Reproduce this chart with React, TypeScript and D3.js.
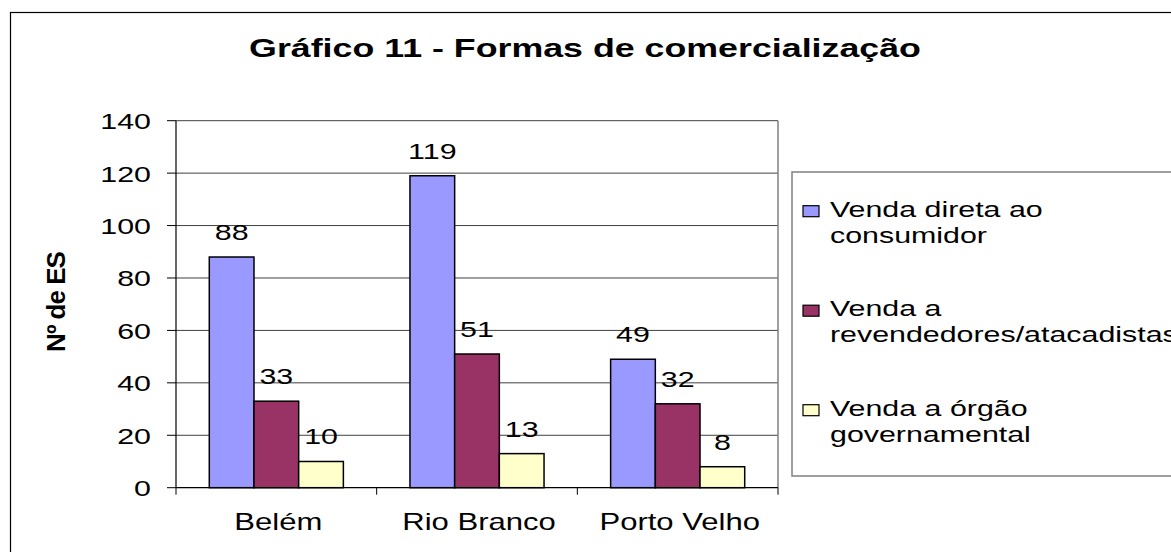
import React from "react";
import * as d3 from "d3";

const cities = ["Belém", "Rio Branco", "Porto Velho"];
const seriesNames = ["direta", "revendedores", "orgao"];
const vendaDireta = [88, 119, 49];
const vendaRevendedores = [33, 51, 32];
const vendaOrgao = [10, 13, 8];
const legendLines = [
  ["Venda direta ao", "consumidor"],
  ["Venda a", "revendedores/atacadistas"],
  ["Venda a órgão", "governamental"],
];
const yTicks = [0, 20, 40, 60, 80, 100, 120, 140];
const colors = ["#9999FF", "#993366", "#FFFFCC"];

const FONT = "'Liberation Sans', Arial, sans-serif";
const SX = 1.35; // the original picture is stretched horizontally

export default function App() {
  const left = 176;
  const right = 778;
  const top = 120.7;
  const bottom = 487.7;

  const y = d3.scaleLinear().domain([0, 140]).range([bottom, top]);
  const x0 = d3.scaleBand().domain(cities).range([left, right]);
  const x1 = d3
    .scaleBand()
    .domain(seriesNames)
    .range([0, x0.bandwidth()])
    .paddingInner(0)
    .paddingOuter(0.745);

  const allSeries = [vendaDireta, vendaRevendedores, vendaOrgao];

  const stretched = (x, yy, anchor, size, txt, bold = false, key?) => (
    <text
      key={key}
      transform={`translate(${x},${yy}) scale(${SX},1)`}
      textAnchor={anchor}
      fontSize={size}
      fontWeight={bold ? "bold" : "normal"}
      fontFamily={FONT}
      fill="#000"
    >
      {txt}
    </text>
  );

  const boundaries = [left, ...cities.map((c) => x0(c) + x0.bandwidth())];

  return (
    <svg
      width={1171}
      height={552}
      style={{ position: "absolute", left: 0, top: 0, background: "#fff" }}
    >
      {/* moldura do gráfico */}
      <rect x={10.5} y={12.5} width={1300} height={700} fill="#fff" stroke="#000" strokeWidth={1.2} />

      {stretched(585, 57, "middle", 26.5, "Gráfico 11 - Formas de comercialização", true)}

      {/* grade */}
      {yTicks.slice(1).map((t) => (
        <line key={t} x1={left} x2={right} y1={y(t)} y2={y(t)} stroke="#404040" strokeWidth={1} />
      ))}
      <line x1={right} x2={right} y1={top} y2={bottom} stroke="#808080" strokeWidth={1.5} />

      {/* barras */}
      {allSeries.map((vals, si) =>
        cities.map((c, ci) => (
          <rect
            key={`${si}-${ci}`}
            x={x0(c) + x1(seriesNames[si])}
            y={y(vals[ci])}
            width={x1.bandwidth()}
            height={bottom - y(vals[ci])}
            fill={colors[si]}
            stroke="#000"
            strokeWidth={1.5}
          />
        ))
      )}

      {/* rótulos de valor */}
      {allSeries.map((vals, si) =>
        cities.map((c, ci) =>
          stretched(
            x0(c) + x1(seriesNames[si]) + x1.bandwidth() / 2,
            y(vals[ci]) - 17,
            "middle",
            22.5,
            String(vals[ci]),
            false,
            `l${si}-${ci}`
          )
        )
      )}

      {/* eixo Y */}
      <line x1={left} x2={left} y1={top} y2={bottom} stroke="#000" strokeWidth={1.2} />
      {yTicks.map((t) => (
        <g key={t}>
          <line x1={left - 9} x2={left} y1={y(t)} y2={y(t)} stroke="#000" strokeWidth={1} />
          {stretched(151, y(t) + 8.5, "end", 22.5, String(t), false)}
        </g>
      ))}
      <text
        transform="translate(65,302) rotate(-90)"
        textAnchor="middle"
        fontSize={26}
        fontWeight="bold"
        fontFamily={FONT}
        letterSpacing={-1}
      >
        Nº de ES
      </text>

      {/* eixo X */}
      <line x1={left} x2={right} y1={bottom} y2={bottom} stroke="#000" strokeWidth={1.2} />
      {boundaries.map((bx, i) => (
        <line key={i} x1={bx} x2={bx} y1={bottom} y2={bottom + 7} stroke="#000" strokeWidth={1} />
      ))}
      {cities.map((c) => stretched(x0(c) + x0.bandwidth() / 2 + 2, 530, "middle", 23, c, false, c))}

      {/* legenda */}
      <rect x={792} y={172} width={500} height={304} fill="#fff" stroke="#808080" strokeWidth={1.5} />
      {legendLines.map((lines, i) => {
        const by = 216.7 + i * 99.5;
        return (
          <g key={i}>
            <rect x={803} y={by - 11} width={16} height={11} fill={colors[i]} stroke="#000" strokeWidth={1.2} />
            {stretched(830, by, "start", 22.5, lines[0], false)}
            {stretched(830, by + 26, "start", 22.5, lines[1], false)}
          </g>
        );
      })}
    </svg>
  );
}
